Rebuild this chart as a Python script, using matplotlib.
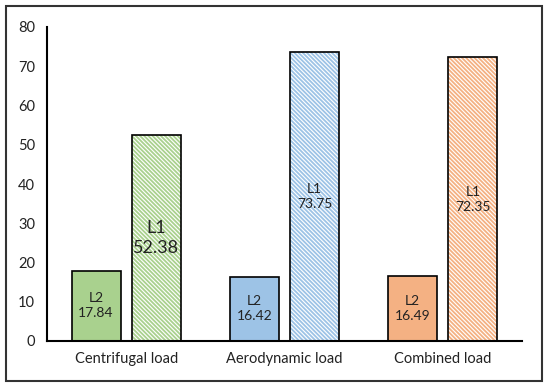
import numpy as np
import matplotlib
matplotlib.use("Agg")
import matplotlib.pyplot as plt
from matplotlib.patches import Rectangle

# data
categories = ["Centrifugal load", "Aerodynamic load", "Combined load"]
l2_values = [17.84, 16.42, 16.49]
l1_values = [52.38, 73.75, 72.35]
colors = ["#a9d18e", "#9dc3e6", "#f4b183"]
yticks = [0, 10, 20, 30, 40, 50, 60, 70, 80]

plt.rcParams['font.family'] = ['Lato', 'DejaVu Sans']
plt.rcParams['hatch.linewidth'] = 1.3

fig = plt.figure(figsize=(5.5, 3.88), dpi=100)
ax = fig.add_axes([47/550, 1-341/388, 475/550, 314/388])

x = np.arange(len(categories))
w = 0.31
off = 0.19

for i in range(len(categories)):
    ax.bar(x[i] - off, l2_values[i], w, color=colors[i], edgecolor="black", linewidth=1.2, zorder=2)
    # hatched L1 bar, then a black outline on top
    ax.bar(x[i] + off, l1_values[i], w, color="white", edgecolor=colors[i], hatch="\\" * 8,
           linewidth=0, zorder=2)
    ax.bar(x[i] + off, l1_values[i], w, fill=False, edgecolor="black", linewidth=1.2, zorder=3)

    ax.text(x[i] - off, l2_values[i] / 2, "L2\n%.2f" % l2_values[i], ha="center", va="center",
            fontsize=10, color="#222222", linespacing=1.3, zorder=4)
    fs = 13 if i == 0 else 10
    ax.text(x[i] + off, l1_values[i] / 2, "L1\n%.2f" % l1_values[i], ha="center", va="center",
            fontsize=fs, color="#222222", linespacing=1.3, zorder=4)

ax.set_xlim(-0.5, 2.5)
ax.set_ylim(0, 80)
ax.set_yticks(yticks)
ax.set_xticks(x)
ax.set_xticklabels(categories)
ax.tick_params(axis="both", length=0, labelsize=10.5, colors="#222222")
ax.tick_params(axis="y", pad=8.5)
ax.tick_params(axis="x", pad=8)

ax.spines["top"].set_visible(False)
ax.spines["right"].set_visible(False)
ax.spines["left"].set_linewidth(1.5)
ax.spines["bottom"].set_linewidth(1.5)

# outer frame round the whole chart
fig.patches.append(Rectangle((6/550, 7/388), 536/550, 375/388, transform=fig.transFigure,
                             fill=False, edgecolor="#333333", linewidth=1.5))

fig.savefig("out.png", dpi=100)
